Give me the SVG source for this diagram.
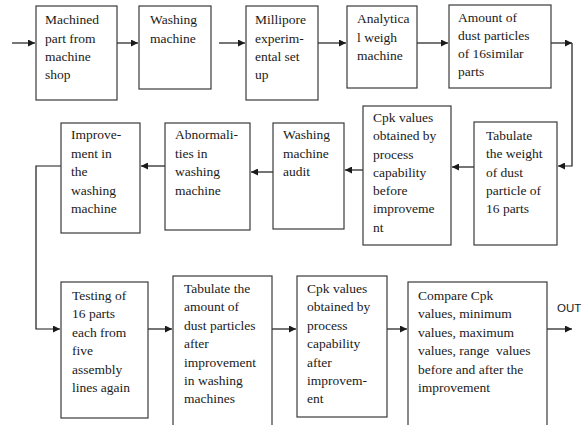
<svg xmlns="http://www.w3.org/2000/svg" width="585" height="425" viewBox="0 0 585 425">
<style>
rect{fill:#fff;stroke:#3a3a3a;stroke-width:1.2}
text{font-family:'Liberation Serif','DejaVu Serif',serif;font-size:13.5px;fill:#1a1a1a}
.c{fill:none;stroke:#1a1a1a;stroke-width:1.2}
text.out{font-family:'Liberation Sans',Arial,sans-serif;font-size:11.5px}
</style>
<defs>
<marker id="a" viewBox="0 0 10 10" refX="10" refY="5" markerWidth="7" markerHeight="7" markerUnits="userSpaceOnUse" orient="auto"><path d="M0,0L10,5L0,10z" fill="#1a1a1a"/></marker>
</defs>
<rect x="0" y="0" width="585" height="425" style="fill:#fff;stroke:none"/>
<g id="connectors">
<path class="c" d="M12,43H35" marker-end="url(#a)"/>
<path class="c" d="M117,43H138" marker-end="url(#a)"/>
<path class="c" d="M219,43H245" marker-end="url(#a)"/>
<path class="c" d="M318,43H346" marker-end="url(#a)"/>
<path class="c" d="M417,43H448" marker-end="url(#a)"/>
<path class="c" d="M551,43H572" marker-end="url(#a)"/>
<path class="c" d="M572,43V166H558" marker-end="url(#a)"/>
<path class="c" d="M474,167H452" marker-end="url(#a)"/>
<path class="c" d="M363,170H345" marker-end="url(#a)"/>
<path class="c" d="M273,172H251" marker-end="url(#a)"/>
<path class="c" d="M165,166H141" marker-end="url(#a)"/>
<path class="c" d="M61,166H36V329H60" marker-end="url(#a)"/>
<path class="c" d="M148,329H172" marker-end="url(#a)"/>
<path class="c" d="M272,329H296" marker-end="url(#a)"/>
<path class="c" d="M387,329H407" marker-end="url(#a)"/>
<path class="c" d="M547,329H572" marker-end="url(#a)"/>
</g>
<g id="n1"><rect x="36" y="6" width="81" height="94"/><text x="45" y="24">Machined</text><text x="45" y="43">part from</text><text x="45" y="61">machine</text><text x="45" y="79">shop</text></g>
<g id="n2"><rect x="139" y="6" width="72" height="83"/><text x="150" y="24">Washing</text><text x="150" y="43">machine</text></g>
<g id="n3"><rect x="246" y="6" width="72" height="94"/><text x="255" y="24">Millipore</text><text x="255" y="43">experim-</text><text x="255" y="61">ental set</text><text x="255" y="79">up</text></g>
<g id="n4"><rect x="347" y="6" width="70" height="82"/><text x="357" y="23">Analytica</text><text x="357" y="42">l weigh</text><text x="357" y="60">machine</text></g>
<g id="n5"><rect x="449" y="5" width="102" height="83"/><text x="458" y="22">Amount of</text><text x="458" y="40">dust particles</text><text x="458" y="58">of 16similar</text><text x="458" y="76">parts</text></g>
<g id="n6"><rect x="474" y="122" width="83" height="123"/><text x="486" y="140">Tabulate</text><text x="486" y="158">the weight</text><text x="486" y="177">of dust</text><text x="486" y="195">particle of</text><text x="486" y="213">16 parts</text></g>
<g id="n7"><rect x="363" y="106" width="88" height="139"/><text x="373" y="122">Cpk values</text><text x="373" y="140">obtained by</text><text x="373" y="159">process</text><text x="373" y="177">capability</text><text x="373" y="195">before</text><text x="373" y="213">improveme</text><text x="373" y="232">nt</text></g>
<g id="n8"><rect x="273" y="123" width="71" height="106"/><text x="283" y="139">Washing</text><text x="283" y="158">machine</text><text x="283" y="176">audit</text></g>
<g id="n9"><rect x="165" y="123" width="85" height="107"/><text x="175" y="139">Abnormali-</text><text x="175" y="158">ties in</text><text x="175" y="176">washing</text><text x="175" y="195">machine</text></g>
<g id="n10"><rect x="61" y="123" width="79" height="110"/><text x="71" y="139">Improve-</text><text x="71" y="158">ment in</text><text x="71" y="176">the</text><text x="71" y="195">washing</text><text x="71" y="213">machine</text></g>
<g id="n11"><rect x="61" y="282" width="87" height="136"/><text x="72" y="300">Testing of</text><text x="72" y="318">16 parts</text><text x="72" y="337">each from</text><text x="72" y="355">five</text><text x="72" y="374">assembly</text><text x="72" y="392">lines again</text></g>
<g id="n12"><rect x="173" y="276" width="99" height="160"/><text x="184" y="293">Tabulate the</text><text x="184" y="311">amount of</text><text x="184" y="330">dust particles</text><text x="184" y="348">after</text><text x="184" y="367">improvement</text><text x="184" y="385">in washing</text><text x="184" y="403">machines</text></g>
<g id="n13"><rect x="297" y="276" width="90" height="141"/><text x="307" y="293">Cpk values</text><text x="307" y="311">obtained by</text><text x="307" y="330">process</text><text x="307" y="348">capability</text><text x="307" y="367">after</text><text x="307" y="385">improvem-</text><text x="307" y="403">ent</text></g>
<g id="n14"><rect x="408" y="282" width="139" height="160"/><text x="418" y="300">Compare Cpk</text><text x="418" y="318">values, minimum</text><text x="418" y="337">values, maximum</text><text x="418" y="355" xml:space="preserve">values, range  values</text><text x="418" y="374">before and after the</text><text x="418" y="392">improvement</text></g>
<g id="out"><text class="out" x="557" y="312">OUT</text></g>
</svg>
